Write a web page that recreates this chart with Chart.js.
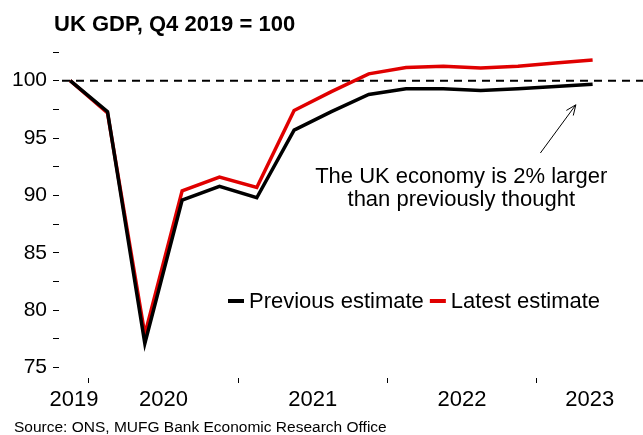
<!DOCTYPE html>
<html>
<head>
<meta charset="utf-8">
<title>UK GDP, Q4 2019 = 100</title>
<script src="https://cdn.jsdelivr.net/npm/chart.js@4"></script>
<style>
  html, body { margin: 0; padding: 0; background: #fff; }
</style>
</head>
<body>
<canvas id="gdpChart" width="643" height="435"></canvas>
<script>
"use strict"

const quarters = ['Q4 2019', 'Q1 2020', 'Q2 2020', 'Q3 2020', 'Q4 2020', 'Q1 2021', 'Q2 2021', 'Q3 2021',
  'Q4 2021', 'Q1 2022', 'Q2 2022', 'Q3 2022', 'Q4 2022', 'Q1 2023', 'Q2 2023'];
const years = ['2019', '2020', '2021', '2022', '2023'];
const previousEstimate = [100, 97.3, 77.1, 89.6, 90.8, 89.8, 95.7, 97.3, 98.8, 99.3, 99.3, 99.15, 99.3, 99.5, 99.7];
const latestEstimate = [100, 97.2, 77.9, 90.4, 91.6, 90.7, 97.4, 99.05, 100.6, 101.15, 101.25, 101.1, 101.25, 101.55, 101.8];
const baseline = 100;
const note = ['The UK economy is 2% larger', 'than previously thought'];
const source = 'Source: ONS, MUFG Bank Economic Research Office';

const FONT = "'Liberation Sans', Arial, sans-serif";
const X_MIN = -0.3, X_MAX = 15.35;

// year boundaries (tick marks) sit between Q4 and Q1
const yearBreaks = [];
quarters.forEach((q, i) => { if (q.startsWith('Q1')) yearBreaks.push(i - 0.5); });

// year labels centred on the visible part of each year
const yearCentres = years.map(y => {
  const first = quarters.findIndex(q => q.endsWith(y));
  const qNum = parseInt(quarters[first].charAt(1));
  const start = Math.max(first - qNum + 0.5, X_MIN);
  const end = Math.min(first - qNum + 4.5, X_MAX);
  return (start + end) / 2;
});

const toPoints = arr => arr.map((v, i) => ({x: i, y: v}));

const decorations = {
  id: 'decorations',
  beforeDatasetsDraw(chart) {
    const {ctx, chartArea, scales: {y}} = chart;
    const py = y.getPixelForValue(baseline);
    ctx.save();
    ctx.strokeStyle = '#000';
    ctx.lineWidth = 2;
    ctx.setLineDash([8, 6]);
    ctx.beginPath();
    ctx.moveTo(chartArea.left + 3, py);
    ctx.lineTo(chartArea.right, py);
    ctx.stroke();
    ctx.restore();
  },
  afterDraw(chart) {
    const {ctx, scales: {x, y}} = chart;
    ctx.save();
    ctx.fillStyle = '#000';
    ctx.textBaseline = 'alphabetic';

    // title
    ctx.font = 'bold 22px ' + FONT;
    ctx.textAlign = 'left';
    ctx.fillText('UK GDP, Q4 2019 = 100', 54, 31);

    // source
    ctx.font = '15.5px ' + FONT;
    ctx.fillText(source, 14, 432);

    // legend
    ctx.font = '22px ' + FONT;
    let lx = 228;
    const ly = 308;
    chart.data.datasets.forEach(ds => {
      ctx.fillStyle = ds.borderColor;
      ctx.fillRect(lx, ly - 9, 16, 4);
      lx += 21;
      ctx.fillStyle = '#000';
      ctx.fillText(ds.label, lx, ly);
      lx += ctx.measureText(ds.label).width + 6;
    });

    // annotation
    ctx.textAlign = 'center';
    const tx = x.getPixelForValue(10.48);
    const ty = y.getPixelForValue(91.8);
    ctx.fillText(note[0], tx, ty + 8);
    ctx.fillText(note[1], tx, ty + 31);

    const x0 = x.getPixelForValue(12.6), y0 = y.getPixelForValue(93.7);
    const x1 = x.getPixelForValue(13.55), y1 = y.getPixelForValue(97.9);
    const ang = Math.atan2(y1 - y0, x1 - x0);
    ctx.strokeStyle = '#000';
    ctx.lineWidth = 1;
    ctx.beginPath();
    ctx.moveTo(x0, y0);
    ctx.lineTo(x1, y1);
    ctx.moveTo(x1 - 11 * Math.cos(ang - 0.4), y1 - 11 * Math.sin(ang - 0.4));
    ctx.lineTo(x1, y1);
    ctx.lineTo(x1 - 11 * Math.cos(ang + 0.4), y1 - 11 * Math.sin(ang + 0.4));
    ctx.stroke();
    ctx.restore();
  }
};

const ctx = document.getElementById('gdpChart').getContext('2d');
const gdpChart = new Chart(ctx, {
  type: 'line',
  data: {
    datasets: [{
      label: 'Previous estimate',
      data: toPoints(previousEstimate),
      borderColor: '#000000',
      borderWidth: 3.5,
      pointRadius: 0,
      tension: 0
    }, {
      label: 'Latest estimate',
      data: toPoints(latestEstimate),
      borderColor: '#e00000',
      borderWidth: 3.5,
      pointRadius: 0,
      tension: 0
    }]
  },
  options: {
    responsive: false,
    animation: false,
    layout: { padding: {top: 52, right: 0, bottom: 22, left: 0} },
    plugins: {
      legend: { display: false },
      tooltip: { enabled: false },
      title: { display: false }
    },
    scales: {
      x: {
        type: 'linear',
        position: 'bottom',
        weight: 0,
        min: X_MIN,
        max: X_MAX,
        border: { display: false },
        grid: { drawOnChartArea: false, drawTicks: true, tickLength: 5, color: '#000' },
        ticks: { display: false },
        afterBuildTicks: scale => { scale.ticks = yearBreaks.map(v => ({value: v})); },
        afterFit: scale => { scale.height = 5; }
      },
      x2: {
        type: 'linear',
        position: 'bottom',
        weight: 1,
        min: X_MIN,
        max: X_MAX,
        border: { display: false },
        grid: { display: false, drawTicks: false, tickLength: 0 },
        ticks: {
          autoSkip: false,
          maxRotation: 0,
          padding: 4,
          color: '#000',
          font: { size: 22, family: FONT },
          callback: (value, index) => years[index]
        },
        afterBuildTicks: scale => { scale.ticks = yearCentres.map(v => ({value: v})); },
        afterFit: scale => { scale.height = 30; }
      },
      y: {
        type: 'linear',
        min: 74.1,
        max: 102.5,
        border: { display: false },
        grid: { drawOnChartArea: false, drawTicks: true, tickLength: 6, color: '#000' },
        ticks: {
          padding: 6,
          color: '#000',
          font: { size: 21, family: FONT },
          callback: value => (value % 5 === 0 ? value : '')
        },
        afterBuildTicks: scale => {
          const t = [];
          for (let v = 75; v <= 102.5; v += 2.5) t.push({value: v});
          scale.ticks = t;
        },
        afterFit: scale => { scale.width = 59; }
      }
    }
  },
  plugins: [decorations]
});
</script>
</body>
</html>
